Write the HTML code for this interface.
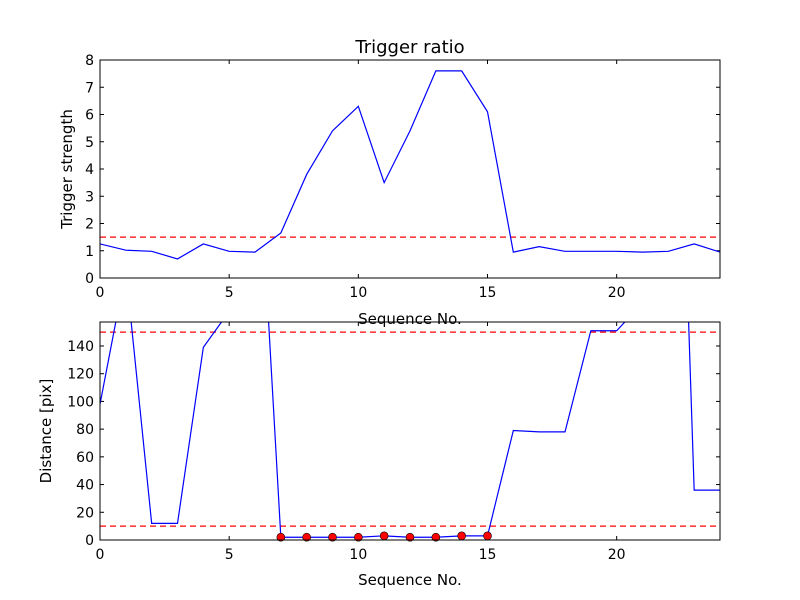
<!DOCTYPE html>
<html><head><meta charset="utf-8"><style>
body{margin:0;background:#fff}
svg{display:block;font-family:"DejaVu Sans","Liberation Sans",sans-serif}
</style></head><body>
<svg id="chart" width="800" height="600">
<defs>
<clipPath id="c1"><rect x="100" y="60" width="620" height="218"/></clipPath>
<clipPath id="c2"><rect x="100" y="322" width="620" height="218"/></clipPath>
</defs>
<rect width="800" height="600" fill="#fff"/>
</svg>
<script>
const seq = [0,1,2,3,4,5,6,7,8,9,10,11,12,13,14,15,16,17,18,19,20,21,22,23,24];
const triggerStrength = [1.25,1.02,0.98,0.7,1.25,0.98,0.95,1.65,3.8,5.4,6.3,3.5,5.4,7.6,7.6,6.1,0.95,1.15,0.98,0.98,0.98,0.95,0.98,1.25,0.95];
const triggerThreshold = [1.5];
const distance = [98,195,12,12,139,165,330,2,2,2,2,3,2,2,3,3,79,78,78,151,151,171,600,36,36];
const markedIdx = [7,8,9,10,11,12,13,14,15];
const distThresholds = [10,150];
const xTicks = [0,5,10,15,20];
const yTicksTop = [0,1,2,3,4,5,6,7,8];
const yTicksBot = [0,20,40,60,80,100,120,140];

const NS="http://www.w3.org/2000/svg";
const svg=document.getElementById('chart');
function mk(tag,attrs,parent){const e=document.createElementNS(NS,tag);for(const k in attrs)e.setAttribute(k,attrs[k]);(parent||svg).appendChild(e);return e;}
const L=100,R=720;
const xs=v=>L+(v-0)/(24-0)*(R-L);
function axes(top,bot,ymax,yticks,clip,name){
  const ys=v=>bot-(v/ymax)*(bot-top);
  const g=mk('g',{});
  
  
  xTicks.forEach(t=>{
    const x=xs(t);
    const a=mk('line',{x1:x,x2:x,y1:bot,y2:bot-4,stroke:'#000'},g);
    const b=mk('line',{x1:x,x2:x,y1:top,y2:top+4,stroke:'#000'},g);
    const tx=mk('text',{x:x,y:bot+19,'text-anchor':'middle','font-size':'14'},g);
    tx.textContent=t;
    
    
  });
  yticks.forEach(t=>{
    const y=ys(t);
    mk('line',{x1:L,x2:L+4,y1:y,y2:y,stroke:'#000'},g);
    mk('line',{x1:R,x2:R-4,y1:y,y2:y,stroke:'#000'},g);
    const tx=mk('text',{x:L-6,y:y+5,'text-anchor':'end','font-size':'14'},g);
    tx.textContent=t;
    
    
  });
  return ys;
}
// top
const ys1=axes(60,278,8,yTicksTop,'c1','top-axes');
const gt=mk('g',{'clip-path':'url(#c1)'});
triggerThreshold.forEach(v=>{const l=mk('line',{x1:L,x2:R,y1:ys1(v),y2:ys1(v),stroke:'#f00','stroke-dasharray':'6,4','stroke-width':1.2},gt);

});
const p1=mk('polyline',{points:seq.map((s,i)=>xs(s)+','+ys1(triggerStrength[i])).join(' '),fill:'none',stroke:'#00f','stroke-width':1.2},gt);


const f1=mk('rect',{x:L,y:60,width:R-L,height:218,fill:'none',stroke:'#000'});


const t1=mk('text',{x:410,y:53,'text-anchor':'middle','font-size':'18'});t1.textContent='Trigger ratio';


const xl1=mk('text',{x:410,y:324,'text-anchor':'middle','font-size':'15'});xl1.textContent='Sequence No.';


const yl1=mk('text',{x:0,y:0,'text-anchor':'middle','font-size':'15',transform:'translate(72,169) rotate(-90)'});yl1.textContent='Trigger strength';


// bottom
const ys2=axes(322,540,157.3,yTicksBot,'c2','bottom-axes');
const gb=mk('g',{'clip-path':'url(#c2)'});
distThresholds.forEach(v=>{const l=mk('line',{x1:L,x2:R,y1:ys2(v),y2:ys2(v),stroke:'#f00','stroke-dasharray':'6,4','stroke-width':1.2},gb);

});
const p2=mk('polyline',{points:seq.map((s,i)=>xs(s)+','+ys2(distance[i])).join(' '),fill:'none',stroke:'#00f','stroke-width':1.2},gb);


const gm=mk('g',{});
markedIdx.forEach(i=>{const c=mk('circle',{cx:xs(seq[i]),cy:ys2(distance[i]),r:4,fill:'#f00',stroke:'#000','stroke-width':0.6},gm);

});
const f2=mk('rect',{x:L,y:322,width:R-L,height:218,fill:'none',stroke:'#000'});


const xl2=mk('text',{x:410,y:585,'text-anchor':'middle','font-size':'15'});xl2.textContent='Sequence No.';


const yl2=mk('text',{x:0,y:0,'text-anchor':'middle','font-size':'15',transform:'translate(51,431) rotate(-90)'});yl2.textContent='Distance [pix]';


</script>
</body></html>
